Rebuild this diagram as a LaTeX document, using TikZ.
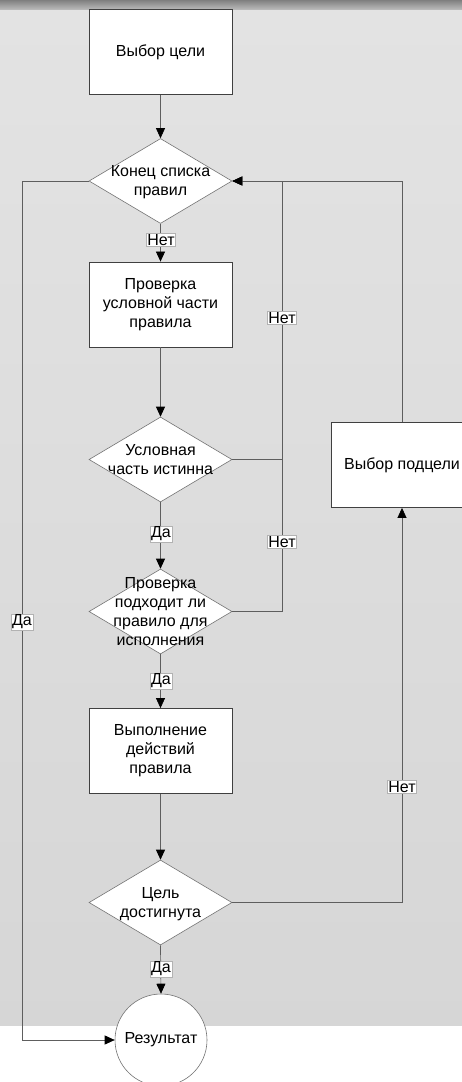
\documentclass[tikz,border=0pt]{standalone}
\usepackage{fontspec}
\setmainfont{Liberation Sans}
\usetikzlibrary{shapes.geometric,arrows.meta}
\newcommand\dtext[1]{\makebox[0pt]{\smash{\raisebox{-0.35em}{\begin{tabular}{@{}c@{}}#1\end{tabular}}}}}
\newcommand\fsz{\fontsize{16pt}{19pt}\selectfont}
\definecolor{lnc}{HTML}{5E5E5E}
\begin{document}
\begin{tikzpicture}[x=1pt,y=-1pt,
  box/.style={draw=black!75, fill=white, line width=0.8pt, minimum width=143pt, minimum height=85pt, align=center, inner sep=0pt, font=\fsz},
  dia/.style={diamond, draw=black!55, fill=white, line width=0.6pt, minimum width=143pt, minimum height=85pt, inner sep=0pt, font=\fsz},
  lab/.style={fill=white, draw=black!30, line width=0.4pt, inner sep=1pt, font=\fsz},
  ln/.style={draw=lnc, line width=0.7pt},
  arr/.style={ln, -{Triangle[length=10pt,width=9pt,color=black]}}]
\useasboundingbox (0,0) rectangle (462,1082);
\fill[white] (0,0) rectangle (462,1082);
\shade[top color=black!11, middle color=black!3, bottom color=black!16] (0,9) rectangle (462,1025);
\shade[top color=black!50, bottom color=black!28] (0,0) rectangle (462,9);

\node[box] (goal) at (160.5,52) {Выбор цели};
\node[dia] (d1) at (160.5,181) {\dtext{Конец списка\\правил}};
\node[box] (chk) at (160.5,304.5) {Проверка\\условной части\\правила};
\node[dia] (d2) at (160.5,459.5) {\dtext{Условная\\часть истинна}};
\node[dia] (d3) at (160.5,611.5) {\dtext{Проверка\\подходит ли\\правило для\\исполнения}};
\node[box] (act) at (160.5,751) {Выполнение\\действий\\правила};
\node[dia] (d4) at (160.5,902.5) {\dtext{Цель\\достигнута}};
\node[circle, draw=black!55, fill=white, line width=0.6pt, minimum size=92pt, inner sep=0pt, font=\fsz] (res) at (161,1040) {Результат};
\node[box, minimum width=142pt] (sub) at (402,465) {Выбор подцели};

\coordinate (J) at (282,181);
\coordinate (L) at (22,181);

\draw[arr] (goal.south) -- (d1.north);
\draw[arr] (d1.south) -- (chk.north);
\draw[arr] (chk.south) -- (d2.north);
\draw[arr] (d2.south) -- (d3.north);
\draw[arr] (d3.south) -- (act.north);
\draw[arr] (act.south) -- (d4.north);
\draw[arr] (d4.south) -- (res.north);
\draw[arr] (d1.west) -- (L) |- (res.west);
\draw[ln] (d2.east) -- (d2.east -| J);
\draw[arr] (d3.east) -| (J) -- (d1.east);
\draw[arr] (sub.north) |- (d1.east);
\draw[arr] (d4.east) -| (sub.south);

\node[lab] (l1) at (161,240) {Нет};
\node[lab] (l2) at (282,318) {Нет};
\node[lab] (l3) at (161,534) {Да};
\node[lab] (l4) at (282,542) {Нет};
\node[lab] (l5) at (22,622) {Да};
\node[lab] (l6) at (161,681) {Да};
\node[lab] (l7) at (402,787) {Нет};
\node[lab] (l8) at (161,969) {Да};
\end{tikzpicture}
\end{document}
